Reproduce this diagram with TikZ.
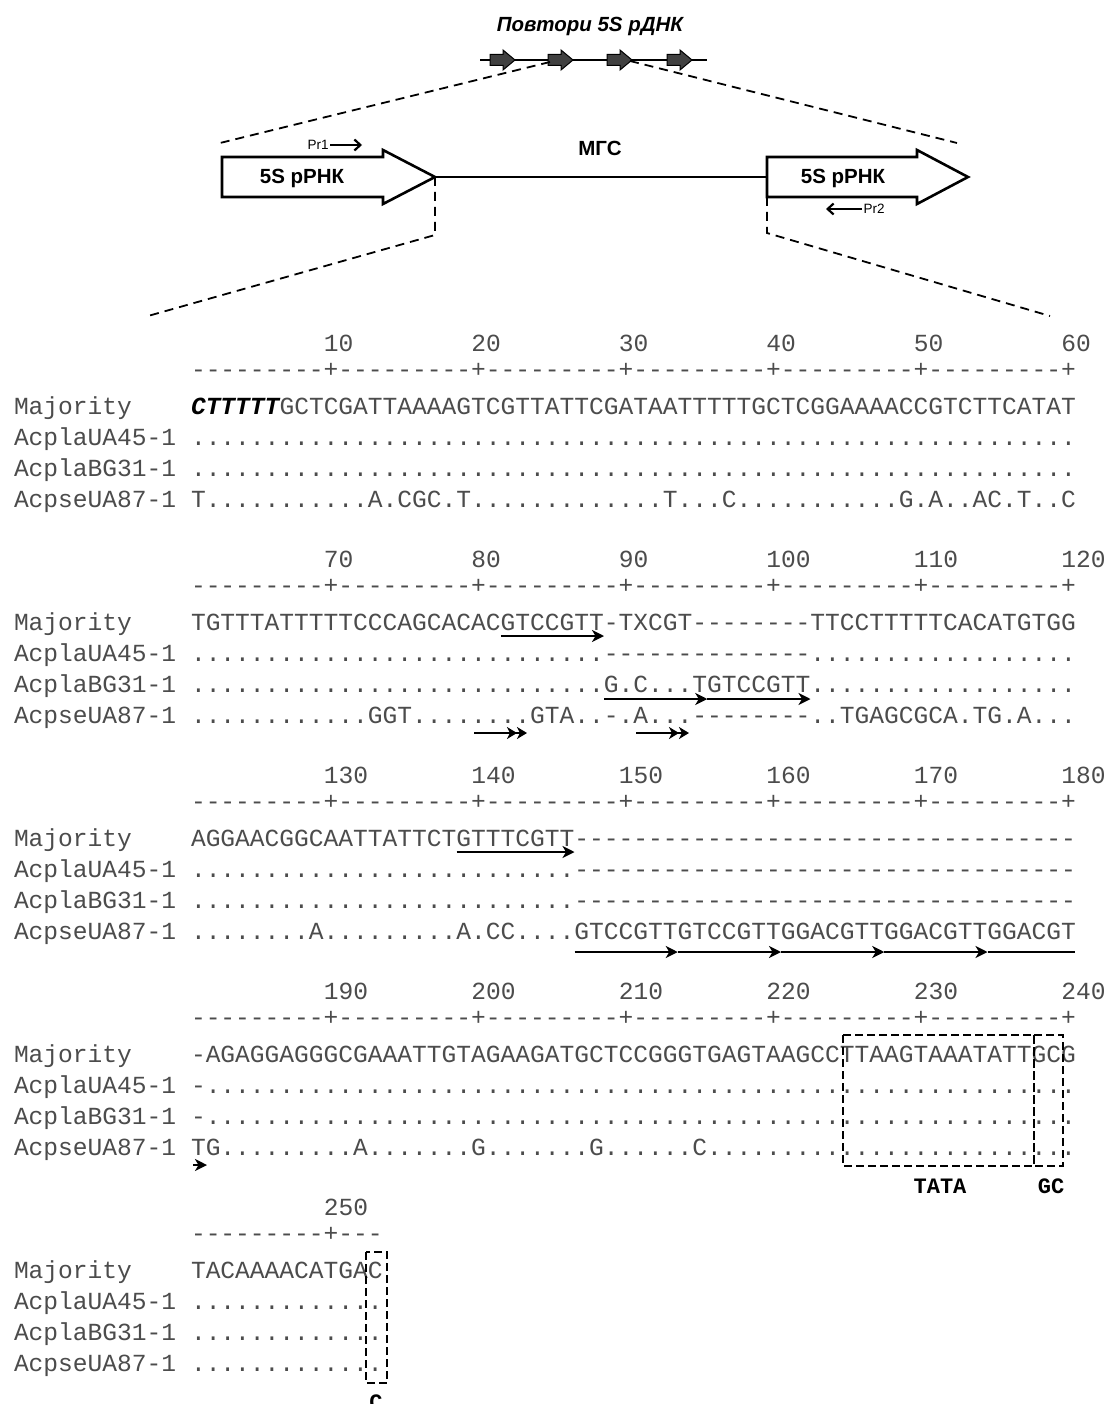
\documentclass[tikz,border=0pt]{standalone}
\usepackage{fontspec}
\setmainfont{Liberation Sans}
\setmonofont{Liberation Mono}
\usetikzlibrary{arrows.meta}

\definecolor{seqgray}{gray}{0.30}
\definecolor{unitfill}{gray}{0.25}

% n copies of a character
\newcommand\seqrep[2]{\ifnum#1>0 #2\expandafter\seqrep\expandafter{\the\numexpr#1-1\relax}{#2}\fi}

% sequence names of one alignment block
\newcommand\rowlabels[1]{%
  \node[seq] (maj#1) at (14,414) {Majority};
  \node[seq] (ua45#1) at (14,445) {AcplaUA45-1};
  \node[seq] (bg31#1) at (14,476) {AcplaBG31-1};
  \node[seq] (ua87#1) at (14,507) {AcpseUA87-1};}

\tikzset{
  seq/.style={font=\ttfamily\fontsize{24.58}{28}\selectfont, text=seqgray,
              inner sep=0pt, outer sep=0pt, anchor=base west},
  num/.style={seq},
  boxlbl/.style={font=\ttfamily\bfseries\fontsize{22}{26}\selectfont, text=black,
                 inner sep=0pt, anchor=base},
  uline/.style={line width=2.8pt, -{Stealth[length=12pt,width=12pt,inset=3.5pt]}},
  plainline/.style={line width=2.8pt},
  dblhead/.style={line width=2.8pt,
     -{Stealth[length=10pt,width=12pt,inset=3pt]Stealth[length=10pt,width=12pt,inset=3pt]}},
  boxdash/.style={draw, line width=2pt, dash pattern=on 8pt off 4pt},
  guide/.style={line width=1.8pt, dash pattern=on 9pt off 6pt},
  gene/.style={draw, line width=2.6pt, fill=white, line join=miter},
  genelbl/.style={font=\bfseries\fontsize{20.5}{24}\selectfont, inner sep=0pt},
  repunit/.style={draw, line width=1pt, fill=unitfill},
  primer/.style={line width=2.2pt, -{Straight Barb[length=6pt,width=11pt]}},
  primerlbl/.style={font=\fontsize{13.5}{15}\selectfont, inner sep=1.5pt},
}

\begin{document}
\begin{tikzpicture}[x=1pt,y=-1pt]
\fill[white] (0,0) rectangle (1110,1404);
\useasboundingbox (0,0) rectangle (1110,1404);

% ---------- repeat array ----------
\node[font=\bfseries\itshape\fontsize{20.5}{24}\selectfont, inner sep=0pt, anchor=base]
  (title) at (590,32) {Повтори 5S рДНК};
\coordinate (rpA) at (480,60);
\coordinate (rpB) at (707,60);
\draw[line width=2.2pt] (rpA) -- (rpB);
\foreach \x in {490,548,607,667}
  \draw[repunit] (\x,54.5) -- ++(13,0) -- ++(0,-4.5) -- ++(12,10) -- ++(-12,10)
                 -- ++(0,-4.5) -- ++(-13,0) -- cycle;

\coordinate (cutL) at (550,62);
\coordinate (cutR) at (630,61);
\coordinate (topL) at (220,143);
\coordinate (topR) at (957,143);
\draw[guide] (cutL) -- (topL);
\draw[guide] (cutR) -- (topR);

% ---------- one repeat unit ----------
\draw[gene] (222,157) -- (383,157) -- (383,150) -- (435,177) -- (383,204) -- (383,197)
            -- (222,197) -- cycle;
\coordinate (ltip) at (435,177);
\node[genelbl] (lgene) at (302,178) {5S рРНК};

\draw[gene] (767,157) -- (917,157) -- (917,150) -- (968,177) -- (917,204) -- (917,197)
            -- (767,197) -- cycle;
\coordinate (rbase) at (767,177);
\coordinate (rbot) at (767,197);
\node[genelbl] (rgene) at (843,178) {5S рРНК};

\draw[line width=2.6pt] (ltip) -- (rbase);
\node[genelbl] (igs) at (600,148) {МГС};

\node[primerlbl] (pr1) at (318,145) {Pr1};
\coordinate (pr1end) at (362,145);
\draw[primer] (pr1.east) -- (pr1end);
\node[primerlbl] (pr2) at (874,209) {Pr2};
\coordinate (pr2end) at (826,209);
\draw[primer] (pr2.west) -- (pr2end);

\coordinate (lowL1) at (435,235);
\coordinate (lowL2) at (148,316);
\coordinate (lowR1) at (767,233);
\coordinate (lowR2) at (1050,316);
\draw[guide] (ltip) -- (lowL1) -- (lowL2);
\draw[guide] (rbot) -- (lowR1) -- (lowR2);

% ---------- alignment, positions 1-60 ----------
% position numbers start in the column of their '+' tick
\begin{scope}
\foreach \c in {1,...,6}{\pgfmathtruncatemacro\v{10*\c}\node[num] (na-\c) at ({191+14.75*(10*\c-1)},351) {\v};}
\node[seq] (rula) at (191,377) {---------+---------+---------+---------+---------+---------+};
\rowlabels{a}
\node[seq] (sa1) at (191,414) {{\bfseries\itshape\color{black}CTTTTT}GCTCGATTAAAAGTCGTTATTCGATAATTTTTGCTCGGAAAACCGTCTTCATAT};
\node[seq] (sa2) at (191,445) {\seqrep{60}{.}};
\node[seq] (sa3) at (191,476) {\seqrep{60}{.}};
\node[seq] (sa4) at (191,507) {T\seqrep{11}{.}A.CGC.T\seqrep{13}{.}T...C\seqrep{11}{.}G.A..AC.T..C};
\end{scope}

% ---------- positions 61-120 ----------
\begin{scope}[shift={(0,216)}]
\foreach \c in {1,...,6}{\pgfmathtruncatemacro\v{60+10*\c}\node[num] (nb-\c) at ({191+14.75*(10*\c-1)},351) {\v};}
\node[seq] (rulb) at (191,377) {---------+---------+---------+---------+---------+---------+};
\rowlabels{b}
\node[seq] (sb1) at (191,414) {TGTTTATTTTTCCCAGCACACGTCCGTT-TXCGT--------TTCCTTTTTCACATGTGG};
\node[seq] (sb2) at (191,445) {\seqrep{28}{.}\seqrep{14}{-}\seqrep{18}{.}};
\node[seq] (sb3) at (191,476) {\seqrep{28}{.}G.C...TGTCCGTT\seqrep{18}{.}};
\node[seq] (sb4) at (191,507) {\seqrep{12}{.}GGT\seqrep{8}{.}GTA..-.A...--------..TGAGCGCA.TG.A...};
\coordinate (ub1) at (500.75,420);
\coordinate (ub2) at (604,420);
\draw[uline] (ub1) -- (ub2);
\coordinate (vb1) at (604,483);
\coordinate (vb2) at (707.25,483);
\coordinate (vb3) at (810.5,483);
\draw[uline] (vb1) -- (vb2);
\draw[uline] (vb2) -- (vb3);
\coordinate (wb1) at (474,517);
\coordinate (wb2) at (527,517);
\coordinate (wb3) at (636,517);
\coordinate (wb4) at (689,517);
\draw[dblhead] (wb1) -- (wb2);
\draw[dblhead] (wb3) -- (wb4);
\end{scope}

% ---------- positions 121-180 ----------
\begin{scope}[shift={(0,432)}]
\foreach \c in {1,...,6}{\pgfmathtruncatemacro\v{120+10*\c}\node[num] (nc-\c) at ({191+14.75*(10*\c-1)},351) {\v};}
\node[seq] (rulc) at (191,377) {---------+---------+---------+---------+---------+---------+};
\rowlabels{c}
\node[seq] (sc1) at (191,414) {AGGAACGGCAATTATTCTGTTTCGTT\seqrep{34}{-}};
\node[seq] (sc2) at (191,445) {\seqrep{26}{.}\seqrep{34}{-}};
\node[seq] (sc3) at (191,476) {\seqrep{26}{.}\seqrep{34}{-}};
\node[seq] (sc4) at (191,507) {\seqrep{8}{.}A\seqrep{9}{.}A.CC....GTCCGTTGTCCGTTGGACGTTGGACGTTGGACGT};
\coordinate (uc1) at (456.5,420);
\coordinate (uc2) at (574.5,420);
\draw[uline] (uc1) -- (uc2);
\coordinate (rc0) at (574.5,520);
\coordinate (rc1) at (677.75,520);
\coordinate (rc2) at (781,520);
\coordinate (rc3) at (884.25,520);
\coordinate (rc4) at (987.5,520);
\coordinate (rc5) at (1075,520);
\draw[uline] (rc0) -- (rc1);
\draw[uline] (rc1) -- (rc2);
\draw[uline] (rc2) -- (rc3);
\draw[uline] (rc3) -- (rc4);
\draw[plainline] (rc4) -- (rc5);
\end{scope}

% ---------- positions 181-240 ----------
\begin{scope}[shift={(0,648)}]
\foreach \c in {1,...,6}{\pgfmathtruncatemacro\v{180+10*\c}\node[num] (nd-\c) at ({191+14.75*(10*\c-1)},351) {\v};}
\node[seq] (ruld) at (191,377) {---------+---------+---------+---------+---------+---------+};
\rowlabels{d}
\node[seq] (sd1) at (191,414) {-AGAGGAGGGCGAAATTGTAGAAGATGCTCCGGGTGAGTAAGCCTTAAGTAAATATTGCG};
\node[seq] (sd2) at (191,445) {-\seqrep{59}{.}};
\node[seq] (sd3) at (191,476) {-\seqrep{59}{.}};
\node[seq] (sd4) at (191,507) {TG\seqrep{9}{.}A\seqrep{7}{.}G\seqrep{7}{.}G\seqrep{6}{.}C\seqrep{25}{.}};
\coordinate (rd0) at (193,517);
\coordinate (rd1) at (207,517);
\draw[uline] (rd0) -- (rd1);
\draw[boxdash] (843,387) rectangle (1034,518);
\draw[boxdash] (1034,387) rectangle (1063,518);
\node[boxlbl] (tata) at (940,545) {TATA};
\node[boxlbl] (gcbox) at (1051,545) {GC};
\end{scope}

% ---------- positions 241-253 ----------
\begin{scope}[shift={(0,864)}]
\node[num] (ne-1) at ({191+14.75*9},351) {250};
\node[seq] (rule) at (191,377) {---------+---};
\rowlabels{e}
\node[seq] (se1) at (191,414) {TACAAAACATGAC};
\node[seq] (se2) at (191,445) {\seqrep{13}{.}};
\node[seq] (se3) at (191,476) {\seqrep{13}{.}};
\node[seq] (se4) at (191,507) {\seqrep{13}{.}};
\draw[boxdash] (366,388) rectangle (387,519);
\node[boxlbl] (cbox) at (376,545) {C};
\end{scope}
\end{tikzpicture}
\end{document}
